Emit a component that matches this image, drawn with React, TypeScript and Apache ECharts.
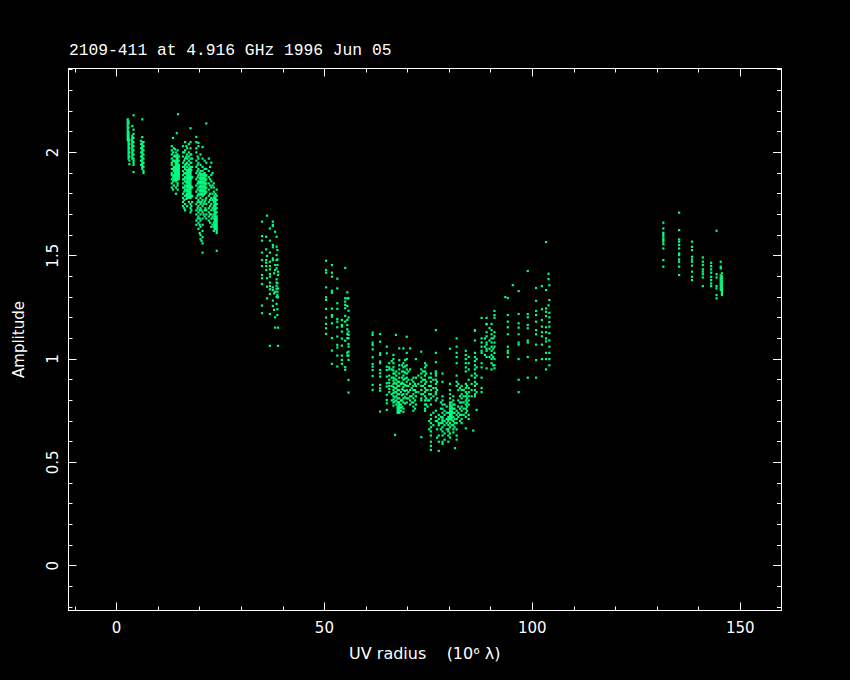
import React, { useEffect, useRef } from "react";
import * as echarts from "echarts";

// Each row: [UV radius, amplitude, amplitude, ...].
const nearGroup: number[][] = [
  [2.7, 2.16, 2.15, 2.14, 2.13, 2.12, 2.11, 2.1, 2.09, 2.08, 2.07, 2.06],
  [2.9, 2.15, 2.14, 2.12, 2.1, 2.09, 2.08, 2.07, 2.06, 2.05, 2.04, 2.03, 2.02, 2.01, 2.0, 1.99, 1.98, 1.97],
  [3.1, 2.06, 2.04, 2.02, 2.0, 1.98, 1.96, 1.943],
  [3.8, 2.127, 2.08, 2.07, 2.06, 2.05, 2.04, 2.03, 2.02, 2.01, 2.0, 1.99, 1.98, 1.97],
  [4.1, 2.18, 2.11, 2.09, 2.07, 2.05, 2.03, 2.01, 1.99, 1.97, 1.96, 1.95, 1.94, 1.905],
  [5.9, 2.056, 2.04, 2.02, 2.0, 1.98, 1.96, 1.94],
  [6.2, 2.16, 2.074, 2.05, 2.04, 2.03, 2.02, 2.01, 2.0, 1.99, 1.98, 1.97, 1.96, 1.95, 1.94, 1.93, 1.92],
  [6.5, 2.05, 2.03, 2.01, 1.99, 1.97, 1.95, 1.93, 1.91, 1.9],
];

const shoulderA: number[][] = [
  [13.3, 2.03, 2.01, 1.99, 1.97, 1.95, 1.94, 1.92, 1.9, 1.89, 1.87, 1.85, 1.83],
  [13.6, 2.07, 2.0, 1.96, 1.92, 1.88, 1.86, 1.82],
  [13.8, 2.02, 1.98, 1.96, 1.93, 1.91, 1.89, 1.87, 1.84],
  [14.1, 2.015, 1.985, 1.955, 1.925, 1.915, 1.905, 1.895, 1.885, 1.875, 1.865],
  [14.3, 2.0, 1.98, 1.96, 1.95, 1.94, 1.93, 1.92, 1.91, 1.9, 1.89, 1.88, 1.87, 1.86, 1.83, 1.8],
  [14.5, 2.093, 1.985, 1.975, 1.965, 1.955, 1.945, 1.935, 1.925, 1.915, 1.905, 1.895, 1.885, 1.875, 1.865],
  [14.7, 2.01, 1.99, 1.97, 1.96, 1.95, 1.94, 1.93, 1.92, 1.91, 1.9, 1.89, 1.88, 1.87, 1.85, 1.84, 1.82],
  [14.8, 2.185],
  [15.0, 1.98, 1.96, 1.94, 1.93, 1.92, 1.91, 1.9, 1.89, 1.88, 1.87],
];

const shoulderB: number[][] = [
  [16.0, 2.03, 2.0, 1.98, 1.95, 1.93, 1.91, 1.89, 1.87, 1.85, 1.83, 1.8, 1.78, 1.76, 1.74],
  [16.3, 2.0, 1.96, 1.93, 1.9, 1.87, 1.83, 1.81, 1.77, 1.73],
  [16.5, 2.05, 2.01, 1.97, 1.94, 1.92, 1.9, 1.88, 1.86, 1.84, 1.82, 1.79, 1.75, 1.72],
  [16.8, 2.03, 1.98, 1.945, 1.915, 1.895, 1.875, 1.855, 1.835, 1.815, 1.795, 1.775],
  [17.0, 2.02, 1.99, 1.97, 1.95, 1.93, 1.91, 1.9, 1.89, 1.88, 1.87, 1.86, 1.85, 1.84, 1.83, 1.82, 1.81, 1.8, 1.79, 1.78, 1.74],
  [17.2, 1.915, 1.895, 1.875, 1.855, 1.835, 1.815, 1.795],
  [17.4, 2.04, 2.0, 1.98, 1.96, 1.94, 1.92, 1.91, 1.9, 1.89, 1.88, 1.87, 1.86, 1.85, 1.84, 1.83, 1.82, 1.81, 1.8, 1.79, 1.78, 1.76],
  [17.6, 1.925, 1.905, 1.885, 1.865, 1.845, 1.825, 1.805, 1.785],
  [17.8, 2.117, 2.05, 2.02, 1.99, 1.97, 1.95, 1.93, 1.92, 1.91, 1.9, 1.89, 1.88, 1.87, 1.86, 1.85, 1.84, 1.83, 1.82, 1.81, 1.8, 1.79, 1.78, 1.75, 1.73, 1.71],
  [18.0, 1.99, 1.95, 1.915, 1.875, 1.835, 1.785, 1.74, 1.72],
  [18.2, 1.97, 1.93, 1.88, 1.83, 1.79, 1.76],
];

const shoulderC: number[][] = [
  [19.2, 2.075, 2.05, 2.02, 2.0, 1.96, 1.93, 1.9, 1.87, 1.84, 1.81, 1.78, 1.75, 1.72, 1.7, 1.67, 1.65],
  [19.5, 1.98, 1.94, 1.91, 1.88, 1.85, 1.82, 1.79, 1.76, 1.73, 1.68],
  [19.7, 2.046, 2.03, 1.97, 1.95, 1.92, 1.89, 1.86, 1.85, 1.83, 1.8, 1.77, 1.74, 1.71, 1.69, 1.66, 1.63],
  [20.0, 1.9, 1.875, 1.855, 1.835, 1.815, 1.795, 1.76, 1.72, 1.68, 1.65, 1.61],
  [20.2, 1.99, 1.94, 1.91, 1.89, 1.88, 1.87, 1.86, 1.85, 1.84, 1.83, 1.82, 1.81, 1.8, 1.78, 1.75, 1.73, 1.7, 1.67, 1.64, 1.6, 1.58],
  [20.45, 1.572, 1.895, 1.875, 1.855, 1.835, 1.815, 1.795, 1.76, 1.72],
  [20.7, 2.026, 1.97, 1.93, 1.91, 1.89, 1.88, 1.87, 1.86, 1.85, 1.84, 1.83, 1.82, 1.81, 1.8, 1.79, 1.77, 1.74, 1.71, 1.68, 1.65, 1.62, 1.59, 1.56, 1.515],
  [20.95, 1.895, 1.875, 1.855, 1.835, 1.815, 1.795, 1.75, 1.7],
  [21.2, 1.96, 1.92, 1.9, 1.89, 1.88, 1.87, 1.86, 1.85, 1.84, 1.83, 1.82, 1.81, 1.8, 1.76, 1.72, 1.69],
  [21.4, 1.885, 1.865, 1.845, 1.825, 1.805, 1.77, 1.73],
  [21.6, 2.14, 1.95, 1.92, 1.89, 1.87, 1.85, 1.83, 1.81, 1.78, 1.75, 1.72, 1.7, 1.68],
];

const shoulderD: number[][] = [
  [22.2, 1.97, 1.91, 1.88, 1.85, 1.82, 1.79, 1.76, 1.73, 1.71, 1.69, 1.67],
  [22.5, 1.93, 1.87, 1.84, 1.8, 1.77, 1.74, 1.7, 1.66],
  [22.8, 1.95, 1.89, 1.86, 1.83, 1.78, 1.75, 1.72, 1.7, 1.68, 1.64],
  [23.1, 1.9, 1.84, 1.8, 1.77, 1.73, 1.69, 1.65],
  [23.4, 1.85, 1.83, 1.81, 1.78, 1.76, 1.74, 1.72, 1.7, 1.68, 1.66, 1.64, 1.62],
  [23.6, 1.79, 1.77, 1.75, 1.73, 1.71, 1.69, 1.67, 1.65, 1.63],
  [23.8, 1.8, 1.78, 1.77, 1.76, 1.75, 1.74, 1.73, 1.72, 1.71, 1.7, 1.69, 1.68, 1.67, 1.66, 1.65, 1.64, 1.63],
  [24.1, 1.82, 1.79, 1.77, 1.75, 1.73, 1.71, 1.69, 1.68, 1.67, 1.66, 1.65, 1.64, 1.63, 1.62, 1.61, 1.524],
];

const dropGroup: number[][] = [
  [35.0, 1.665, 1.595, 1.573, 1.515, 1.479, 1.45, 1.407, 1.391, 1.363, 1.259, 1.222],
  [36.0, 1.592, 1.531, 1.479, 1.466, 1.45, 1.431],
  [36.2, 1.694, 1.499, 1.391, 1.35, 1.294],
  [36.9, 1.632, 1.573, 1.515, 1.471, 1.45, 1.434, 1.412, 1.399, 1.37, 1.354, 1.338, 1.315, 1.218, 1.064],
  [37.6, 1.665, 1.649, 1.644, 1.552, 1.541, 1.487, 1.479, 1.347, 1.334, 1.283, 1.257],
  [37.9, 1.415, 1.318, 1.238],
  [38.15, 1.616, 1.455, 1.431, 1.326, 1.202, 1.152],
  [38.5, 1.592, 1.544, 1.503, 1.479, 1.439, 1.386, 1.354, 1.267, 1.37, 1.34, 1.3],
  [38.7, 1.528, 1.482, 1.455, 1.367, 1.326, 1.31, 1.241, 1.213],
  [38.85, 1.423, 1.407, 1.342, 1.299, 1.152, 1.064],
];

const midGroup: number[][] = [
  [50.4, 1.476, 1.431, 1.418, 1.347, 1.299, 1.286, 1.243, 1.201, 1.17, 1.149, 1.122],
  [51.8, 1.455, 1.418, 1.399, 1.331, 1.321, 1.244, 1.213, 1.205, 1.173, 1.102, 1.041, 0.977],
  [53.1, 1.389, 1.342, 1.27, 1.243, 1.194, 1.181, 1.154, 1.109, 1.069, 1.056, 1.017, 0.964],
  [54.2, 1.189, 1.165, 1.157, 1.133, 1.099, 1.065, 1.017, 0.996, 0.977],
  [55.0, 1.441, 1.294, 1.278, 1.262, 1.246, 1.209, 1.181, 1.089, 0.961, 0.948],
  [55.5, 1.323, 1.294, 1.257, 1.189, 1.165, 1.144, 1.122, 1.101, 1.031, 1.017],
  [55.8, 1.294, 1.234, 1.201, 1.133, 1.117, 1.101, 1.073, 1.06, 1.036, 1.017, 0.996, 0.899, 0.838],
];

const troughLeft: number[][] = [
  [61.6, 1.128, 1.117, 1.079, 1.068, 1.047, 1.009, 0.976, 0.963, 0.947, 0.918, 0.875, 0.851],
  [63.4, 1.121, 1.084, 1.028, 1.02, 0.988, 0.98, 0.947, 0.931, 0.915, 0.875, 0.859, 0.847, 0.746],
  [65.0, 1.06, 1.028, 0.963, 0.947, 0.915, 0.883, 0.867, 0.827, 0.802, 0.786, 0.754],
  [65.6, 0.98, 0.96, 0.95, 0.92, 0.9, 0.885, 0.87, 0.855, 0.84],
  [66.2, 0.99, 0.95, 0.91, 0.87, 0.83, 0.8],
  [66.6, 1.02, 1.0, 0.98, 0.96, 0.945, 0.93, 0.91, 0.895, 0.88, 0.865, 0.85, 0.835, 0.82, 0.805, 0.79, 0.775],
  [66.9, 0.93, 0.905, 0.885, 0.86, 0.84, 0.815, 0.795],
  [67.0, 0.633],
  [67.2, 1.117],
  [67.3, 0.94, 0.92, 0.9, 0.88, 0.86, 0.84, 0.82, 0.8, 0.78],
  [67.6, 0.89, 0.87, 0.85, 0.83, 0.81, 0.79, 0.77, 0.76, 0.75, 0.74],
  [67.9, 0.79, 0.78, 0.77, 0.76, 0.75, 0.745],
  [68.0, 1.052, 0.995, 0.97, 0.95, 0.93, 0.91, 0.89, 0.87, 0.85, 0.83, 0.81, 0.79, 0.77, 0.76, 0.745, 0.74],
  [68.4, 0.88, 0.84, 0.8, 0.78, 0.765, 0.75],
  [68.7, 0.97, 0.94, 0.91, 0.885, 0.855, 0.825, 0.8, 0.77],
  [69.0, 1.052, 0.98, 0.96, 0.94, 0.92, 0.9, 0.88, 0.865, 0.85, 0.83, 0.81, 0.79, 0.76, 0.745],
  [69.4, 0.995, 0.965, 0.935, 0.905, 0.875, 0.845, 0.815, 0.785],
  [69.8, 1.108, 1.03, 1.0, 0.97, 0.95, 0.93, 0.91, 0.89, 0.87, 0.85, 0.83, 0.81, 0.79],
  [70.2, 0.94, 0.9, 0.87, 0.84, 0.81],
  [70.6, 1.052, 0.95, 0.88, 0.85, 0.82, 0.8, 0.78],
  [71.0, 0.9, 0.86, 0.82, 0.79],
  [71.4, 0.91, 0.89, 0.87, 0.85, 0.83, 0.81, 0.79, 0.77, 0.75],
  [71.8, 0.88, 0.85, 0.8, 0.76],
  [72.0, 1.0, 0.91, 0.87, 0.84, 0.82, 0.78],
  [72.6, 0.92, 0.88, 0.84],
];

const troughCentre: number[][] = [
  [73.3, 1.036, 0.95, 0.93, 0.91, 0.89, 0.87, 0.85, 0.83, 0.81, 0.8, 0.622],
  [73.7, 0.94, 0.9, 0.87, 0.83],
  [74.2, 0.98, 0.96, 0.94, 0.92, 0.9, 0.88, 0.86, 0.84, 0.82, 0.8, 0.78, 0.76, 0.75],
  [74.5, 0.97, 0.93, 0.89, 0.85, 0.81, 0.78],
  [74.8, 0.85, 0.8, 0.77],
  [75.2, 0.91, 0.87, 0.83, 0.8, 0.7, 0.66],
  [75.6, 0.93, 0.91, 0.89, 0.87, 0.85, 0.83, 0.81, 0.78, 0.73, 0.71, 0.69, 0.67, 0.65, 0.63, 0.6, 0.58, 0.56],
  [76.2, 0.9, 0.86, 0.82, 0.74, 0.68],
  [76.8, 1.14, 1.03, 0.985, 0.94, 0.93, 0.92, 0.9, 0.88, 0.86, 0.84, 0.83, 0.8, 0.75, 0.72, 0.7],
  [77.1, 0.89, 0.85, 0.81, 0.7, 0.66, 0.62],
  [77.5, 0.73, 0.71, 0.69, 0.68, 0.63, 0.6, 0.556],
  [78.0, 0.79, 0.76, 0.72, 0.69, 0.66],
  [78.4, 0.93, 0.89, 0.82, 0.8, 0.78, 0.76, 0.74, 0.72, 0.71, 0.7, 0.69, 0.67, 0.65, 0.63, 0.6, 0.59],
  [78.9, 0.78, 0.75, 0.73, 0.7, 0.68, 0.64, 0.61],
  [79.4, 0.77, 0.74, 0.71, 0.69, 0.66],
  [79.8, 0.74, 0.72, 0.71, 0.7, 0.68, 0.66, 0.65, 0.63, 0.6],
  [80.2, 1.05, 0.88, 0.85, 0.83, 0.81, 0.79, 0.78, 0.77, 0.76, 0.75, 0.74, 0.73, 0.72, 0.71, 0.69, 0.67, 0.64, 0.62],
  [80.6, 0.79, 0.775, 0.765, 0.755, 0.745, 0.735, 0.725, 0.715, 0.705, 0.68],
  [81.0, 0.82, 0.8, 0.78, 0.76, 0.74, 0.72, 0.7, 0.68, 0.66, 0.645],
  [81.3, 0.78, 0.76, 0.74, 0.71, 0.69, 0.67],
  [81.4, 0.569],
  [81.8, 1.1, 1.06, 1.03, 1.01, 0.98, 0.92, 0.89, 0.87, 0.75, 0.73, 0.71, 0.69, 0.66, 0.63, 0.61],
  [82.2, 0.88, 0.85, 0.8, 0.77, 0.74, 0.72],
  [82.6, 0.86, 0.82, 0.79, 0.76, 0.73, 0.7],
];

const troughRight: number[][] = [
  [83.0, 0.87, 0.85, 0.83, 0.81, 0.79, 0.77, 0.75, 0.73, 0.71, 0.69],
  [83.5, 0.85, 0.82, 0.79, 0.76, 0.73],
  [84.0, 1.04, 1.02, 1.0, 0.98, 0.96, 0.94, 0.88, 0.86, 0.84, 0.82, 0.8, 0.78, 0.76, 0.74, 0.72, 0.665],
  [84.3, 0.87, 0.83, 0.81, 0.79, 0.77, 0.75],
  [84.7, 1.01, 0.98, 0.95, 0.9, 0.86, 0.84, 0.82, 0.8, 0.78, 0.73, 0.71],
  [85.4, 0.92, 0.88, 0.85, 0.82],
  [85.8, 0.654],
  [86.2, 1.137, 1.14, 1.09, 1.03, 1.01, 0.99, 0.97, 0.95, 0.93, 0.91, 0.89, 0.87, 0.85, 0.83, 0.82],
  [86.6, 0.754, 1.0, 0.96, 0.92, 0.88, 0.84],
  [87.8, 1.199, 1.1, 1.08, 1.06, 1.04, 1.03, 0.98, 0.96, 0.91, 0.86, 0.84],
  [88.6, 1.1, 1.06, 1.02],
  [89.0, 1.199, 1.168, 1.17, 1.13, 1.11, 1.08, 1.07, 1.05, 1.04, 1.01, 0.955],
  [89.7, 1.15, 1.09, 1.05, 1.01],
  [90.2, 1.17, 1.14, 1.12, 1.1, 1.08, 1.06, 1.04, 1.02, 1.0, 0.98, 0.95],
  [90.6, 1.1, 1.05, 1.01, 0.97],
  [90.9, 1.233, 1.213, 1.2, 1.13, 1.11, 1.08, 1.06, 1.03, 1.0, 0.97, 0.955],
];

const risingGroup: number[][] = [
  [93.5, 1.3],
  [94.1, 1.295, 1.213, 1.181, 1.154, 1.12, 1.06, 1.04, 1.03, 1.01],
  [95.3, 1.358],
  [96.7, 1.329, 1.218, 1.173, 1.152, 1.12, 1.08, 1.07, 1.0, 0.9, 0.84],
  [98.9, 1.426, 1.218, 1.202, 1.165, 1.149, 1.09, 1.08, 1.01, 0.91],
  [100.9, 1.344, 1.282, 1.233, 1.213, 1.181, 1.14, 1.12, 1.07, 0.995, 0.91],
  [102.3, 1.353, 1.241, 1.189, 1.157, 1.13, 1.11, 1.07, 1.0],
  [103.3, 1.566, 1.334, 1.245, 1.229, 1.208, 1.154, 1.13, 1.1, 1.085, 1.03, 1.0, 0.95],
  [103.9, 1.413, 1.387, 1.26],
  [104.1, 1.357, 1.286, 1.224, 1.202, 1.179, 1.157, 1.125, 1.09, 1.06, 1.03, 1.0, 0.97],
];

const farGroup: number[][] = [
  [131.5, 1.66, 1.632, 1.611, 1.605, 1.595, 1.584, 1.576, 1.568, 1.556, 1.535, 1.479, 1.447],
  [135.3, 1.708, 1.624, 1.579, 1.568, 1.552, 1.535, 1.511, 1.503, 1.482, 1.471, 1.447, 1.407],
  [138.4, 1.568, 1.543, 1.527, 1.495, 1.482, 1.471, 1.452, 1.423, 1.398, 1.382],
  [141.0, 1.492, 1.471, 1.455, 1.434, 1.423, 1.411, 1.395, 1.353],
  [143.0, 1.466, 1.45, 1.434, 1.418, 1.398, 1.382, 1.366, 1.353],
  [144.3, 1.621, 1.411, 1.395, 1.353, 1.342, 1.31, 1.294],
  [145.3, 1.471, 1.447, 1.439, 1.405, 1.395, 1.385, 1.375, 1.365, 1.355, 1.345, 1.335],
  [145.6, 1.415, 1.4, 1.39, 1.38, 1.37, 1.36, 1.35, 1.34, 1.33, 1.32, 1.31],
];

const allGroups = [nearGroup, shoulderA, shoulderB, shoulderC, shoulderD, dropGroup, midGroup, troughLeft, troughCentre, troughRight, risingGroup, farGroup];

const titleText = "2109-411 at 4.916 GHz 1996 Jun 05";
const xName = "UV radius    (10⁶ λ)";
const yName = "Amplitude";
const xMajor = [0, 50, 100, 150];
const xMinor = [-10, 10, 20, 30, 40, 60, 70, 80, 90, 110, 120, 130, 140];
const yMajor = [0, 0.5, 1, 1.5, 2];
const yMinor = [-0.2, -0.1, 0.1, 0.2, 0.3, 0.4, 0.6, 0.7, 0.8, 0.9, 1.1, 1.2, 1.3, 1.4, 1.6, 1.7, 1.8, 1.9, 2.1, 2.2, 2.3, 2.4];

const FONT = "DejaVu Sans";
const WHITE = "#ffffff";

export default function App() {
  const ref = useRef<HTMLDivElement>(null);
  useEffect(() => {
    document.body.style.margin = "0";
    document.body.style.background = "#000";
    const chart = echarts.init(ref.current!, undefined, { renderer: "svg" });
    const points: number[][] = [];
    allGroups.forEach((g) => g.forEach((row) => row.slice(1).forEach((y) => points.push([row[0], y]))));

    const makeX = (position: string, ticks: number[], len: number, labels: boolean, line: boolean, name?: string) => ({
      type: "value", position, min: -11.54, max: 159.8, scale: false,
      name, nameLocation: "middle", nameGap: 35,
      nameTextStyle: { color: WHITE, fontFamily: FONT, fontSize: 16 },
      splitLine: { show: false },
      axisLine: { show: line, onZero: false, lineStyle: { color: WHITE, width: 1 } },
      axisTick: { show: true, inside: true, length: len, customValues: ticks, lineStyle: { color: WHITE, width: 1 } },
      axisLabel: labels
        ? { show: true, customValues: ticks, color: WHITE, fontFamily: FONT, fontSize: 15, margin: 10 }
        : { show: false },
    });
    const makeY = (position: string, ticks: number[], len: number, labels: boolean, line: boolean, name?: string) => ({
      type: "value", position, min: -0.2166, max: 2.406, scale: false,
      name, nameLocation: "middle", nameGap: 42,
      nameTextStyle: { color: WHITE, fontFamily: FONT, fontSize: 15 },
      splitLine: { show: false },
      axisLine: { show: line, onZero: false, lineStyle: { color: WHITE, width: 1 } },
      axisTick: { show: true, inside: true, length: len, customValues: ticks, lineStyle: { color: WHITE, width: 1 } },
      axisLabel: labels
        ? { show: true, customValues: ticks, color: WHITE, fontFamily: FONT, fontSize: 15, margin: 8, rotate: 90 }
        : { show: false },
    });

    chart.setOption({
      animation: false,
      backgroundColor: "#000000",
      title: {
        text: titleText, left: 69, top: 42, padding: 0,
        textStyle: { color: WHITE, fontFamily: "Liberation Mono", fontSize: 16.3, fontWeight: "normal" },
      },
      grid: { left: 68.5, top: 68.5, width: 712.5, height: 542, containLabel: false, outerBoundsMode: "none" },
      xAxis: [
        makeX("bottom", xMajor, 8, true, true, xName),
        makeX("bottom", xMinor, 4, false, false),
        makeX("top", xMajor, 8, false, true),
        makeX("top", xMinor, 4, false, false),
      ],
      yAxis: [
        makeY("left", yMajor, 8, true, true, yName),
        makeY("left", yMinor, 4, false, false),
        makeY("right", yMajor, 8, false, true),
        makeY("right", yMinor, 4, false, false),
      ],
      series: [
        {
          type: "scatter", xAxisIndex: 0, yAxisIndex: 0, data: points,
          symbol: "rect", symbolSize: 2.2,
          itemStyle: { color: "#00ff80", opacity: 1 },
          silent: true,
        },
      ],
    });
    return () => chart.dispose();
  }, []);
  return <div ref={ref} style={{ position: "absolute", left: 0, top: 0, width: 850, height: 680, background: "#000" }} />;
}
